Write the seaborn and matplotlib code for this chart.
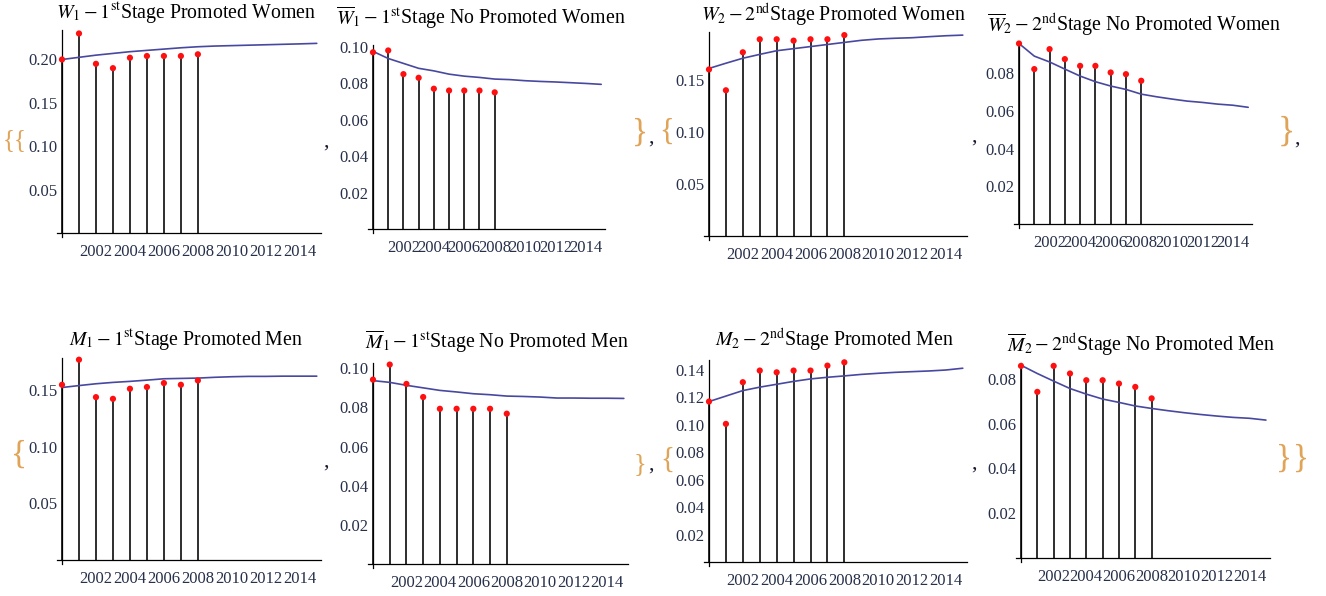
import matplotlib
matplotlib.use("Agg")
import matplotlib.pyplot as plt
import seaborn as sns
import pandas as pd
from matplotlib.ticker import FixedLocator, MultipleLocator, FormatStrFormatter

sns.set_style("white")
plt.rcParams["font.family"] = ["Liberation Serif", "DejaVu Serif"]
plt.rcParams["mathtext.fontset"] = "stix"

# ---- data -------------------------------------------------------------
years_obs = list(range(2000, 2009))
years_fit = list(range(2000, 2016))

w1_obs = [0.200, 0.230, 0.195, 0.190, 0.202, 0.204, 0.204, 0.204, 0.206]
w1_fit = [0.200, 0.2025, 0.205, 0.207, 0.209, 0.2105, 0.212, 0.2135,
          0.2147, 0.2155, 0.216, 0.2165, 0.217, 0.2175, 0.218, 0.2186]

w1bar_obs = [0.097, 0.098, 0.085, 0.083, 0.077, 0.076, 0.076, 0.076, 0.075]
w1bar_fit = [0.0975, 0.0936, 0.0909, 0.0882, 0.0868, 0.0850, 0.0839, 0.0832,
             0.0823, 0.0820, 0.0814, 0.0810, 0.0807, 0.0803, 0.0799, 0.0794]

w2_obs = [0.160, 0.140, 0.1765, 0.189, 0.189, 0.1877, 0.189, 0.189, 0.193]
w2_fit = [0.161, 0.166, 0.1708, 0.1745, 0.178, 0.180, 0.182, 0.184,
          0.186, 0.188, 0.1893, 0.190, 0.1905, 0.1915, 0.1924, 0.193]

w2bar_obs = [0.0959, 0.0823, 0.0929, 0.0876, 0.0840, 0.0840, 0.0805, 0.0796, 0.0761]
w2bar_fit = [0.0959, 0.0892, 0.0861, 0.0823, 0.0786, 0.0756, 0.0733, 0.0715,
             0.0690, 0.0676, 0.0664, 0.0653, 0.0646, 0.0637, 0.0631, 0.0620]

m1_obs = [0.1544, 0.1765, 0.1435, 0.142, 0.1509, 0.1524, 0.1559, 0.1544, 0.1582]
m1_fit = [0.152, 0.1537, 0.1553, 0.1565, 0.1574, 0.1585, 0.1597, 0.160,
          0.1603, 0.161, 0.1615, 0.1618, 0.1618, 0.162, 0.162, 0.162]

m1bar_obs = [0.0942, 0.1019, 0.092, 0.0853, 0.0793, 0.0793, 0.0793, 0.0793, 0.0768]
m1bar_fit = [0.0937, 0.0928, 0.0913, 0.0900, 0.0887, 0.0879, 0.0870, 0.0865,
             0.0858, 0.0856, 0.0853, 0.0848, 0.0848, 0.0847, 0.0847, 0.0846]

m2_obs = [0.117, 0.1007, 0.1311, 0.1396, 0.1383, 0.1396, 0.1396, 0.1432, 0.1456]
m2_fit = [0.117, 0.121, 0.125, 0.1275, 0.1296, 0.1317, 0.1335, 0.1347,
          0.1357, 0.1368, 0.1376, 0.1383, 0.1388, 0.1393, 0.1400, 0.1413]

m2bar_obs = [0.0858, 0.0742, 0.0858, 0.0824, 0.0794, 0.0794, 0.0779, 0.0764, 0.0713]
m2bar_fit = [0.0861, 0.0824, 0.0790, 0.0757, 0.0732, 0.0710, 0.0695, 0.0679,
             0.0668, 0.0658, 0.0649, 0.0641, 0.0634, 0.0628, 0.0624, 0.0616]

titles = [
    r"$W_1 - 1^{\mathrm{st}}$Stage Promoted Women",
    r"$\overline{W}_1 - 1^{\mathrm{st}}$Stage No Promoted Women",
    r"$W_2 - 2^{\mathrm{nd}}$Stage Promoted Women",
    r"$\overline{W}_2 - 2^{\mathrm{nd}}$Stage No Promoted Women",
    r"$M_1 - 1^{\mathrm{st}}$Stage Promoted Men",
    r"$\overline{M}_1 - 1^{\mathrm{st}}$Stage No Promoted Men",
    r"$M_2 - 2^{\mathrm{nd}}$Stage Promoted Men",
    r"$\overline{M}_2 - 2^{\mathrm{nd}}$Stage No Promoted Men",
]
series = [(w1_obs, w1_fit), (w1bar_obs, w1bar_fit), (w2_obs, w2_fit), (w2bar_obs, w2bar_fit),
          (m1_obs, m1_fit), (m1bar_obs, m1bar_fit), (m2_obs, m2_fit), (m2bar_obs, m2bar_fit)]
yticks = [
    [0.05, 0.10, 0.15, 0.20],
    [0.02, 0.04, 0.06, 0.08, 0.10],
    [0.05, 0.10, 0.15],
    [0.02, 0.04, 0.06, 0.08],
    [0.05, 0.10, 0.15],
    [0.02, 0.04, 0.06, 0.08, 0.10],
    [0.02, 0.04, 0.06, 0.08, 0.10, 0.12, 0.14],
    [0.02, 0.04, 0.06, 0.08],
]
ytops = [0.234, 0.101, 0.196, 0.0967, 0.178, 0.1027, 0.1473, 0.0871]
year_labels = list(range(2002, 2015, 2))

# ---- layout (pixels) --------------------------------------------------
W, H = 1326, 596
# x of year 2000, x of right end, y of value 0, y of top
boxes = [
    (62, 321, 233, 30), (373, 605, 229, 45), (709, 967, 236, 32), (1019, 1252, 224, 42),
    (62, 321, 560, 358), (373, 628, 564, 363), (709, 967, 562, 360), (1021, 1270, 558, 363),
]
title_pos = [(186, 13), (481, 18), (833, 15), (1134, 25),
             (186, 340), (497, 342), (834, 340), (1141, 345)]
XEND = 2015.25

fig = plt.figure(figsize=(W / 100, H / 100), dpi=100)

for i, ((obs, fit), (x0, x1, y0, y1)) in enumerate(zip(series, boxes)):
    ytop = ytops[i]
    ppy = (x1 - x0) / (XEND - 2000)
    ppv = (y0 - y1) / ytop
    xpad, ypad = 5.0, 4.0
    left, bottom = x0 - xpad, y0 + ypad
    ax = fig.add_axes([left / W, 1 - bottom / H, (x1 - left) / W, (bottom - y1) / H])
    ax.set_xlim(2000 - xpad / ppy, XEND)
    ax.set_ylim(-ypad / ppv, ytop)

    df_obs = pd.DataFrame({"year": years_obs, "value": obs})
    df_fit = pd.DataFrame({"year": years_fit, "value": fit})
    ax.vlines(df_obs["year"], 0, df_obs["value"], color="black", lw=1.15, zorder=2)
    sns.lineplot(data=df_fit, x="year", y="value", ax=ax, color="#4848a0", lw=1.2, zorder=3)
    sns.scatterplot(data=df_obs, x="year", y="value", ax=ax, color="#ff1010", s=20,
                    edgecolor="none", zorder=4, clip_on=False)
    ax.set_xlabel("")
    ax.set_ylabel("")

    for side in ("top", "right"):
        ax.spines[side].set_visible(False)
    ax.spines["left"].set_position(("data", 2000))
    ax.spines["bottom"].set_position(("data", 0))
    for side in ("left", "bottom"):
        ax.spines[side].set_color("black")
        ax.spines[side].set_linewidth(0.9)

    ax.xaxis.set_major_locator(FixedLocator(year_labels))
    ax.xaxis.set_minor_locator(MultipleLocator(0.5))
    ax.yaxis.set_major_locator(FixedLocator(yticks[i]))
    step = yticks[i][1] - yticks[i][0]
    ax.yaxis.set_minor_locator(MultipleLocator(0.01 if step > 0.03 else 0.005))
    ax.yaxis.set_major_formatter(FormatStrFormatter("%.2f"))
    ax.tick_params(axis="both", which="major", direction="in", length=4.5, width=0.8,
                   color="black", labelsize=12, labelcolor="#27304a", pad=3)
    ax.tick_params(axis="both", which="minor", direction="in", length=2.3, width=0.6,
                   color="black")
    ax.tick_params(axis="x", which="major", pad=8)
    ax.patch.set_alpha(0)

    cx, cy = title_pos[i]
    fig.text(cx / W, 1 - cy / H, titles[i], ha="center", va="center",
             fontsize=14.3, color="black")

# list delimiters around the panels
brace_color = "#e0a458"
comma_color = "#1a1a30"
delims = [
    ("{", 8.5, 140, 18, brace_color), ("{", 20, 140, 18, brace_color),
    (",", 326, 142, 16, comma_color),
    ("}", 640, 132, 24, brace_color), (",", 651, 138, 16, comma_color),
    ("{", 667, 132, 22, brace_color),
    (",", 974, 137, 16, comma_color),
    ("}", 1286, 132, 26, brace_color), (",", 1297, 139, 16, comma_color),
    ("{", 19, 455, 24, brace_color),
    (",", 326, 462, 16, comma_color),
    ("}", 640, 464, 19, brace_color), (",", 651, 465, 16, comma_color),
    ("{", 667, 460, 21, brace_color),
    (",", 974, 464, 16, comma_color),
    ("}", 1284, 459, 24, brace_color), ("}", 1301, 459, 24, brace_color),
]
for ch, x, y, size, col in delims:
    fig.text(x / W, 1 - y / H, ch, ha="center", va="center", fontsize=size,
             color=col, fontweight="light")

fig.savefig("out.png", dpi=100)
